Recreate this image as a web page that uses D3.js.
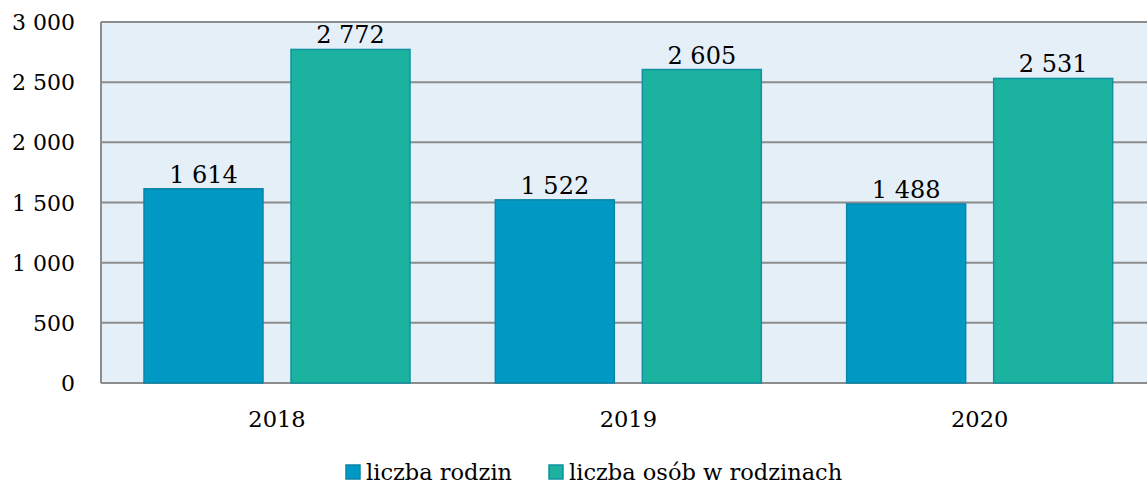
<!DOCTYPE html>
<html>
<head>
<meta charset="utf-8">
<script src="https://cdn.jsdelivr.net/npm/d3@7"></script>
<style>
  body { margin: 0; background: #fff; }
</style>
</head>
<body>
<div id="chart"></div>
<script>
// data
var years = ["2018", "2019", "2020"];
var seriesNames = ["liczba rodzin", "liczba osób w rodzinach"];
var rodziny = [1614, 1522, 1488];
var osoby = [2772, 2605, 2531];
var yTicks = [0, 500, 1000, 1500, 2000, 2500, 3000];

var svgWidth = 1147;
var svgHeight = 484;
var fontFamily = "'DejaVu Serif', serif";

// plot area (right side runs a little past the window, as in the original)
var margin = { top: 22, left: 101 };
var chartWidth = 1054;
var chartHeight = 361;

var colors = ["#0099c4", "#1bb39f"];
var strokes = ["#0b84a8", "#1191a3"];

var svg = d3.select("#chart")
  .append("svg")
  .attr("width", svgWidth)
  .attr("height", svgHeight)
  .attr("font-family", fontFamily);

var chartGroup = svg.append("g")
  .attr("transform", `translate(${margin.left}, ${margin.top})`);

var x0 = d3.scaleBand()
  .domain(years)
  .range([0, chartWidth]);

var x1 = d3.scaleBand()
  .domain(seriesNames)
  .range([43, 309])
  .paddingInner(0.1905);

var y = d3.scaleLinear()
  .domain([0, 3000])
  .range([chartHeight, 0]);

// background
chartGroup.append("rect")
  .attr("width", chartWidth)
  .attr("height", chartHeight)
  .attr("fill", "#e5eff8");

// gridlines
chartGroup.selectAll(".grid")
  .data(yTicks)
  .enter()
  .append("line")
  .attr("x1", 0)
  .attr("x2", chartWidth)
  .attr("y1", d => y(d))
  .attr("y2", d => y(d))
  .attr("stroke", "#8c8c8c")
  .attr("stroke-width", 2);

// left border
chartGroup.append("line")
  .attr("x1", 0).attr("x2", 0)
  .attr("y1", 0).attr("y2", chartHeight)
  .attr("stroke", "#8c8c8c")
  .attr("stroke-width", 2);

var table = years.map(function(yr, i) {
  return { year: yr, values: [rodziny[i], osoby[i]] };
});

var groups = chartGroup.selectAll(".year")
  .data(table)
  .enter()
  .append("g")
  .attr("transform", d => `translate(${x0(d.year)}, 0)`);

var bars = groups.selectAll("g.bar")
  .data(d => d.values.map((v, i) => ({ name: seriesNames[i], value: v, i: i })))
  .enter()
  .append("g");

bars.append("rect")
  .attr("x", d => x1(d.name))
  .attr("y", d => y(d.value))
  .attr("width", x1.bandwidth())
  .attr("height", d => chartHeight - y(d.value))
  .attr("fill", d => colors[d.i])
  .attr("stroke", d => strokes[d.i])
  .attr("stroke-width", 1.5);

var fmt = d => d3.format(",")(d).replace(/,/g, " ");

bars.append("text")
  .attr("x", d => x1(d.name) + x1.bandwidth() / 2)
  .attr("y", d => y(d.value) - 6)
  .attr("text-anchor", "middle")
  .attr("font-size", "24px")
  .text(d => fmt(d.value));

// y axis labels
chartGroup.selectAll(".ylab")
  .data(yTicks)
  .enter()
  .append("text")
  .attr("x", -26)
  .attr("y", d => y(d) + 8)
  .attr("text-anchor", "end")
  .attr("font-size", "22px")
  .text(d => fmt(d));

// x axis labels
chartGroup.selectAll(".xlab")
  .data(years)
  .enter()
  .append("text")
  .attr("x", d => x0(d) + 176)
  .attr("y", chartHeight + 44)
  .attr("text-anchor", "middle")
  .attr("font-size", "22.5px")
  .text(d => d);

// legend
var legendX = [346, 549];
var legend = svg.selectAll(".legend")
  .data(seriesNames)
  .enter()
  .append("g")
  .attr("transform", (d, i) => `translate(${legendX[i]}, 465)`);

legend.append("rect")
  .attr("x", 0)
  .attr("y", 0)
  .attr("width", 14)
  .attr("height", 14)
  .attr("fill", (d, i) => colors[i])
  .attr("stroke", (d, i) => strokes[i])
  .attr("stroke-width", 1.5);

legend.append("text")
  .attr("x", 20)
  .attr("y", 15)
  .attr("font-size", "22.5px")
  .text(d => d);
</script>
</body>
</html>
